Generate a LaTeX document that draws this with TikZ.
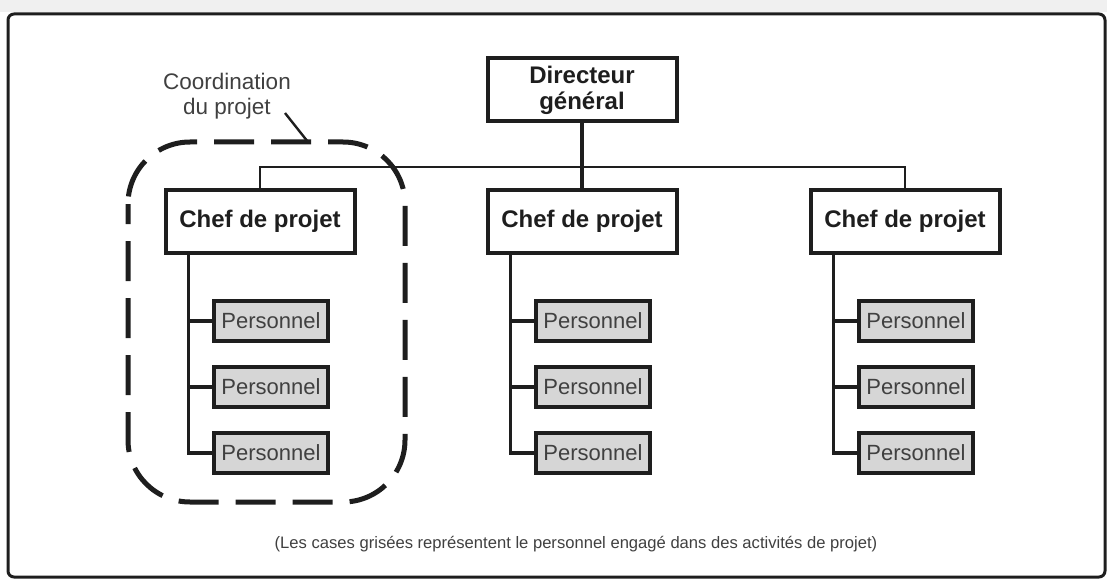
\documentclass[tikz,border=0pt]{standalone}
\usepackage{fontspec}
\setmainfont{Liberation Sans}
\definecolor{persgray}{HTML}{D6D6D6}
\definecolor{ink}{HTML}{1E1E1E}
\begin{document}
\begin{tikzpicture}[x=1pt,y=-1pt,
  chef/.style={draw=ink, line width=4pt, fill=white, minimum width=189pt, minimum height=63pt,
    align=center, text=ink, font=\bfseries\fontsize{24}{26}\selectfont},
  pers/.style={draw=ink, line width=4pt, fill=persgray, minimum width=114pt, minimum height=40pt,
    text=ink!85, font=\fontsize{22}{24}\selectfont},
  conn/.style={draw=ink, line width=3.2pt},
  lbl/.style={text=ink!85, align=center}]
\useasboundingbox (0,0) rectangle (1107,580);
\fill[black!6] (0,0) rectangle (1107,12);
\draw[ink, line width=3pt, rounded corners=6pt] (8,14) rectangle (1105,577);

% nodes
\node[chef] (dg) at (582,90) {Directeur\\général};
\node[chef] (c1) at (260,221.5) {Chef de projet};
\node[chef] (c2) at (582,221.5) {Chef de projet};
\node[chef] (c3) at (905,221.5) {Chef de projet};

\foreach \c/\x in {1/271,2/593,3/916}{
  \node[pers] (p\c1) at (\x,321) {Personnel};
  \node[pers] (p\c2) at (\x,387) {Personnel};
  \node[pers] (p\c3) at (\x,453) {Personnel};
}

% connectors
\draw[conn] (dg.south) -- (c2.north);
\draw[conn, line width=2.6pt] (c1.north) -- ++(0,-21) -| (c3.north);
\foreach \c in {1,2,3}{
  \coordinate (t\c) at ([xshift=25pt]c\c.south west);
  \draw[conn] (t\c) |- (p\c3.west);
  \draw[conn] (p\c1.west) -- (p\c1.west -| t\c);
  \draw[conn] (p\c2.west) -- (p\c2.west -| t\c);
}

% project coordination
\draw[ink, line width=5pt, dash pattern=on 40pt off 17pt, dash phase=20pt, rounded corners=62pt]
  (128,142) rectangle (405,502);
\node[lbl, font=\fontsize{22.5}{25}\selectfont] (coord) at (227,96) {Coordination\\du projet};
\coordinate (ld) at (285,113);
\coordinate (le) at (308,142);
\draw[ink, line width=2.4pt] (ld) -- (le);

\node[lbl, font=\fontsize{16.6}{18}\selectfont] (note) at (576,544)
  {(Les cases grisées représentent le personnel engagé dans des activités de projet)};
\end{tikzpicture}
\end{document}
